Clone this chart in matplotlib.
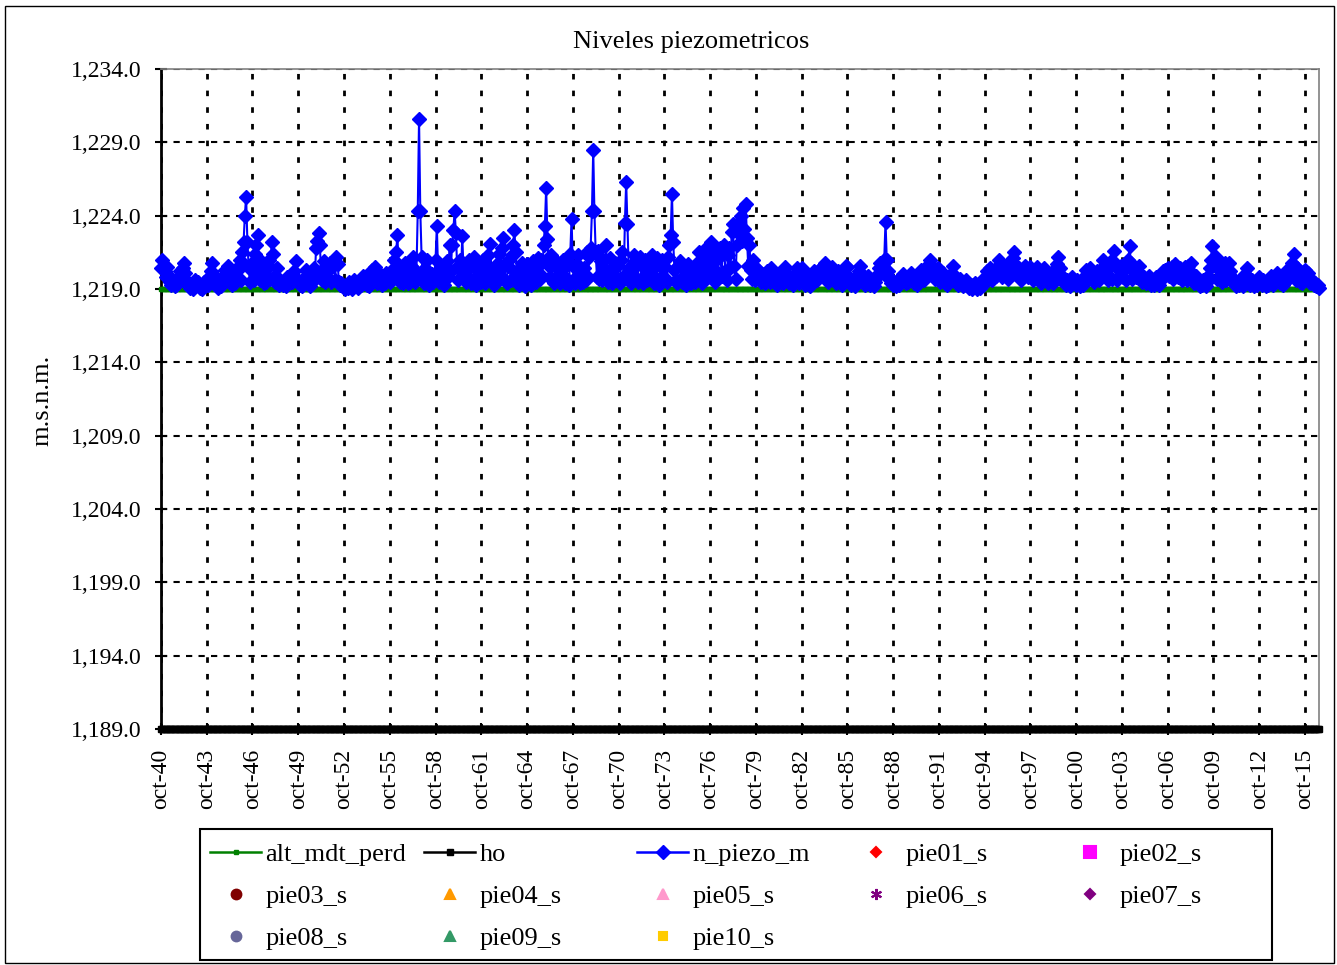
import matplotlib.pyplot as plt
from matplotlib.patches import Rectangle
from matplotlib.ticker import FuncFormatter
import numpy as np
import pandas as pd

plt.rcParams['font.family'] = ['Liberation Serif', 'DejaVu Serif']

# niveles mensuales, una fila por año hidrologico (oct..sep), desde oct-1940
n_piezo_m = [
    [1220.4, 1221.0, 1220.6, 1220.2, 1219.8, 1220.5, 1219.9, 1219.5, 1219.3, 1219.6, 1219.4, 1219.2],
    [1219.3, 1219.5, 1219.8, 1220.2, 1219.9, 1220.4, 1220.8, 1220.1, 1219.6, 1219.3, 1219.2, 1219.1],
    [1219.2, 1219.0, 1219.4, 1219.6, 1219.3, 1219.5, 1219.2, 1219.1, 1219.0, 1219.3, 1219.5, 1219.2],
    [1219.4, 1219.3, 1219.8, 1220.2, 1220.8, 1220.0, 1219.6, 1219.4, 1219.2, 1219.1, 1219.3, 1219.2],
    [1219.5, 1219.8, 1220.3, 1219.7, 1220.1, 1220.6, 1219.9, 1219.5, 1219.3, 1219.6, 1219.4, 1219.8],
    [1220.2, 1220.6, 1221.0, 1219.6, 1221.5, 1222.2, 1224.0, 1225.3, 1222.2, 1220.5, 1219.5, 1220.3],
    [1220.8, 1219.6, 1221.4, 1222.0, 1222.7, 1220.2, 1219.6, 1220.9, 1219.7, 1219.4, 1220.3, 1219.5],
    [1220.5, 1221.0, 1219.7, 1222.2, 1221.4, 1219.8, 1219.5, 1220.4, 1219.5, 1219.3, 1219.6, 1219.4],
    [1219.3, 1219.5, 1219.2, 1219.8, 1219.6, 1219.4, 1219.9, 1219.5, 1219.7, 1220.2, 1220.9, 1219.6],
    [1219.6, 1219.3, 1219.5, 1219.2, 1219.4, 1219.8, 1220.3, 1219.7, 1219.4, 1219.2, 1219.5, 1220.1],
    [1220.4, 1219.7, 1221.8, 1222.3, 1222.8, 1222.0, 1220.2, 1219.6, 1220.9, 1219.5, 1219.8, 1220.5],
    [1219.7, 1220.8, 1219.5, 1220.6, 1221.0, 1219.6, 1221.2, 1220.7, 1219.5, 1219.3, 1219.4, 1219.3],
    [1219.2, 1219.0, 1219.3, 1219.1, 1219.5, 1219.2, 1219.0, 1219.3, 1219.6, 1219.2, 1219.4, 1219.1],
    [1219.5, 1219.3, 1219.6, 1219.9, 1219.4, 1219.7, 1219.3, 1219.5, 1219.2, 1219.8, 1220.3, 1219.6],
    [1220.5, 1219.8, 1219.4, 1219.6, 1220.0, 1219.5, 1219.3, 1219.8, 1219.4, 1220.1, 1219.6, 1219.9],
    [1219.5, 1220.2, 1219.6, 1221.0, 1219.8, 1221.5, 1222.7, 1220.3, 1219.5, 1220.0, 1219.4, 1220.2],
    [1220.8, 1219.6, 1219.4, 1220.3, 1219.5, 1220.6, 1221.2, 1219.8, 1219.5, 1220.2, 1224.3, 1230.6],
    [1224.3, 1221.2, 1219.8, 1219.4, 1220.4, 1221.0, 1219.7, 1219.3, 1219.4, 1220.0, 1219.5, 1219.8],
    [1221.0, 1223.3, 1220.2, 1219.5, 1219.7, 1220.5, 1219.6, 1219.3, 1220.3, 1220.9, 1219.8, 1222.0],
    [1220.2, 1222.0, 1223.0, 1224.3, 1222.8, 1220.5, 1219.6, 1221.0, 1219.8, 1222.6, 1220.4, 1219.6],
    [1219.5, 1220.5, 1221.0, 1219.7, 1219.4, 1220.7, 1221.2, 1219.6, 1219.3, 1220.3, 1219.6, 1220.0],
    [1219.5, 1221.0, 1220.3, 1219.4, 1220.6, 1221.3, 1219.8, 1222.1, 1220.2, 1219.5, 1219.3, 1220.5],
    [1219.7, 1220.8, 1221.4, 1219.9, 1221.8, 1222.5, 1220.6, 1219.6, 1219.4, 1220.6, 1221.0, 1219.6],
    [1221.3, 1222.0, 1223.0, 1221.5, 1220.2, 1219.6, 1219.3, 1220.3, 1220.8, 1219.5, 1219.2, 1219.8],
    [1220.7, 1219.6, 1219.4, 1219.3, 1220.4, 1220.9, 1219.7, 1219.5, 1220.5, 1221.1, 1219.7, 1221.0],
    [1219.9, 1222.0, 1223.3, 1225.9, 1222.4, 1220.6, 1219.8, 1221.3, 1219.6, 1219.4, 1220.6, 1219.7],
    [1220.8, 1219.6, 1219.4, 1220.5, 1221.0, 1219.7, 1219.4, 1220.6, 1219.6, 1219.3, 1221.4, 1223.8],
    [1220.6, 1219.7, 1219.4, 1220.7, 1221.3, 1219.8, 1219.4, 1220.3, 1219.5, 1220.4, 1219.6, 1221.5],
    [1219.8, 1221.2, 1221.8, 1224.3, 1228.5, 1224.3, 1221.5, 1219.8, 1221.6, 1219.7, 1220.9, 1219.6],
    [1221.0, 1219.8, 1222.0, 1220.2, 1219.5, 1221.1, 1219.7, 1219.4, 1220.3, 1220.8, 1219.6, 1220.6],
    [1219.6, 1219.4, 1221.0, 1221.5, 1219.9, 1223.5, 1226.3, 1223.4, 1220.4, 1219.6, 1219.4, 1220.7],
    [1221.3, 1219.8, 1221.0, 1219.5, 1220.8, 1221.2, 1219.7, 1219.4, 1220.4, 1221.0, 1219.6, 1220.8],
    [1219.7, 1220.5, 1221.3, 1219.8, 1219.4, 1220.6, 1221.1, 1219.6, 1219.3, 1220.5, 1221.0, 1219.7],
    [1220.6, 1219.7, 1219.5, 1221.2, 1222.0, 1222.7, 1225.5, 1222.2, 1220.3, 1219.6, 1219.4, 1220.6],
    [1220.9, 1219.7, 1219.5, 1220.6, 1219.6, 1219.3, 1220.2, 1220.7, 1219.6, 1219.4, 1220.3, 1219.6],
    [1219.5, 1220.3, 1220.8, 1221.5, 1219.9, 1219.6, 1219.4, 1220.5, 1221.0, 1221.8, 1219.9, 1220.6],
    [1221.6, 1222.2, 1220.4, 1219.6, 1219.5, 1221.0, 1219.8, 1221.2, 1221.8, 1219.9, 1221.5, 1222.0],
    [1220.2, 1219.6, 1221.3, 1221.8, 1220.4, 1222.9, 1223.4, 1220.6, 1219.7, 1222.0, 1222.8, 1223.6],
    [1224.0, 1222.3, 1224.5, 1223.1, 1224.8, 1222.5, 1220.6, 1222.0, 1220.3, 1219.7, 1221.0, 1219.6],
    [1220.4, 1219.9, 1220.3, 1219.7, 1219.5, 1220.0, 1219.6, 1219.4, 1219.8, 1220.2, 1219.6, 1219.5],
    [1220.4, 1219.8, 1219.5, 1219.9, 1219.6, 1219.3, 1219.7, 1220.1, 1219.6, 1219.4, 1220.0, 1220.5],
    [1220.1, 1219.6, 1219.4, 1219.8, 1219.5, 1219.3, 1219.6, 1220.0, 1220.4, 1219.7, 1219.4, 1219.6],
    [1220.4, 1219.8, 1219.5, 1219.3, 1219.6, 1219.9, 1219.5, 1219.2, 1219.4, 1219.7, 1220.2, 1219.8],
    [1219.6, 1219.9, 1220.3, 1220.0, 1220.4, 1220.6, 1220.8, 1220.2, 1219.7, 1219.5, 1219.8, 1220.1],
    [1220.5, 1219.9, 1219.6, 1219.4, 1219.7, 1220.2, 1219.8, 1219.5, 1219.3, 1219.6, 1220.0, 1220.6],
    [1220.5, 1219.8, 1219.5, 1219.3, 1219.6, 1219.4, 1219.2, 1219.5, 1219.8, 1220.2, 1220.6, 1219.9],
    [1219.6, 1219.4, 1219.3, 1219.6, 1219.9, 1219.5, 1219.3, 1219.6, 1219.4, 1219.2, 1219.5, 1219.8],
    [1220.0, 1220.4, 1220.8, 1220.2, 1220.6, 1221.0, 1223.6, 1221.0, 1220.2, 1219.7, 1219.4, 1219.6],
    [1219.3, 1219.5, 1219.2, 1219.4, 1219.6, 1219.3, 1219.5, 1219.8, 1220.0, 1219.6, 1219.4, 1219.7],
    [1219.5, 1219.8, 1220.1, 1219.6, 1219.4, 1219.7, 1219.5, 1219.3, 1219.6, 1219.9, 1220.3, 1219.8],
    [1219.6, 1219.9, 1220.3, 1220.6, 1220.2, 1221.0, 1220.4, 1220.6, 1219.9, 1219.7, 1220.1, 1220.4],
    [1219.8, 1219.5, 1219.7, 1220.1, 1219.6, 1219.4, 1219.3, 1219.5, 1219.8, 1219.6, 1220.1, 1220.6],
    [1219.9, 1219.6, 1219.4, 1219.3, 1219.5, 1219.7, 1219.4, 1219.2, 1219.4, 1219.6, 1219.3, 1219.2],
    [1219.1, 1219.3, 1219.0, 1219.2, 1219.4, 1219.2, 1219.0, 1219.3, 1219.1, 1219.4, 1219.6, 1219.3],
    [1219.5, 1219.8, 1220.2, 1219.7, 1220.4, 1220.0, 1219.6, 1219.8, 1220.3, 1219.9, 1220.5, 1221.0],
    [1220.6, 1220.2, 1219.8, 1220.3, 1220.6, 1220.1, 1219.7, 1220.0, 1220.4, 1220.9, 1221.1, 1221.5],
    [1220.6, 1220.2, 1219.9, 1220.4, 1220.0, 1219.6, 1219.9, 1220.3, 1220.6, 1220.1, 1219.8, 1220.2],
    [1220.5, 1219.9, 1219.6, 1219.8, 1220.2, 1220.5, 1219.9, 1219.6, 1219.4, 1219.7, 1220.0, 1220.4],
    [1219.8, 1219.6, 1219.4, 1219.7, 1220.1, 1219.6, 1219.4, 1219.8, 1220.2, 1220.7, 1221.2, 1220.4],
    [1219.9, 1219.6, 1219.8, 1219.5, 1219.3, 1219.6, 1219.4, 1219.2, 1219.5, 1219.8, 1219.6, 1219.4],
    [1219.3, 1219.6, 1219.4, 1219.2, 1219.5, 1219.3, 1219.6, 1219.9, 1220.3, 1219.8, 1220.1, 1220.4],
    [1220.0, 1219.7, 1219.5, 1219.8, 1220.2, 1219.9, 1219.6, 1219.8, 1220.4, 1221.0, 1220.5, 1220.2],
    [1220.4, 1219.6, 1220.6, 1220.9, 1219.7, 1220.8, 1221.6, 1220.7, 1219.6, 1219.8, 1220.3, 1220.6],
    [1220.2, 1219.8, 1220.4, 1219.6, 1220.6, 1221.0, 1221.9, 1220.8, 1219.7, 1220.6, 1220.1, 1219.8],
    [1220.2, 1220.6, 1220.0, 1219.7, 1219.5, 1219.8, 1219.6, 1219.4, 1219.6, 1219.9, 1219.5, 1219.3],
    [1219.5, 1219.3, 1219.6, 1219.8, 1219.5, 1219.3, 1219.6, 1219.9, 1220.2, 1219.8, 1220.3, 1220.0],
    [1220.4, 1219.9, 1220.2, 1220.5, 1219.7, 1220.6, 1220.7, 1220.2, 1219.8, 1220.1, 1220.4, 1219.6],
    [1219.7, 1220.2, 1220.5, 1219.6, 1220.6, 1220.3, 1220.8, 1219.8, 1219.6, 1219.4, 1219.9, 1219.5],
    [1219.4, 1219.2, 1219.5, 1219.3, 1219.6, 1219.4, 1219.2, 1219.5, 1219.9, 1220.4, 1221.0, 1221.9],
    [1221.0, 1220.6, 1221.2, 1219.7, 1220.8, 1219.6, 1220.6, 1219.5, 1220.3, 1220.8, 1219.6, 1220.1],
    [1220.8, 1220.2, 1219.8, 1219.5, 1219.7, 1219.4, 1219.2, 1219.5, 1219.3, 1219.6, 1219.4, 1219.2],
    [1219.6, 1220.0, 1220.4, 1219.8, 1219.5, 1219.3, 1219.6, 1219.4, 1219.2, 1219.5, 1219.3, 1219.6],
    [1219.8, 1219.5, 1219.3, 1219.6, 1219.4, 1219.2, 1219.5, 1219.3, 1219.6, 1219.9, 1219.5, 1219.3],
    [1219.5, 1219.8, 1220.1, 1219.6, 1219.4, 1219.7, 1219.5, 1219.3, 1219.6, 1219.8, 1220.3, 1219.7],
    [1219.8, 1220.3, 1220.8, 1221.4, 1220.6, 1219.6, 1220.4, 1219.8, 1219.5, 1219.7, 1219.4, 1219.6],
    [1220.3, 1219.8, 1220.1, 1219.6, 1219.4, 1219.7, 1219.5, 1219.3, 1219.4, 1219.2, 1219.3, 1219.1],
]
alt_mdt_level = 1219.0
ho_level = 1189.0

n_piezo = np.concatenate(n_piezo_m)
fechas = pd.date_range('1940-10-01', periods=len(n_piezo), freq='MS')
alt_mdt_perd = np.full(len(n_piezo), alt_mdt_level)
ho = np.full(len(n_piezo), ho_level)

fig = plt.figure(figsize=(13.37, 9.65), dpi=100)
ax = fig.add_axes([161 / 1337, 1 - 729 / 965, (1319 - 161) / 1337, 660 / 965])

ax.plot(fechas, alt_mdt_perd, color='#008000', lw=2, marker='s', ms=3, clip_on=False, zorder=3, label='alt_mdt_perd')
ax.plot(fechas, ho, color='black', lw=3, marker='s', ms=4, clip_on=False, zorder=3, label='ho')
ax.plot(fechas, n_piezo, color='#0000FF', lw=1.5, marker='D', ms=7.5, clip_on=False, zorder=4, label='n_piezo_m')

# series puntuales sin datos (solo leyenda)
pie_styles = [
    ('pie01_s', 'D', '#FF0000', 5),
    ('pie02_s', 's', '#FF00FF', 8),
    ('pie03_s', 'o', '#800000', 7),
    ('pie04_s', '^', '#FF9900', 7),
    ('pie05_s', '^', '#FF99CC', 7),
    ('pie06_s', (6, 2, 0), '#800080', 8),
    ('pie07_s', 'D', '#800080', 5),
    ('pie08_s', 'o', '#666699', 7),
    ('pie09_s', '^', '#339966', 7),
    ('pie10_s', 's', '#FFCC00', 6),
]
for name, mk, col, size in pie_styles:
    ax.plot([], [], ls='none', marker=mk, color=col, ms=size, mew=1.5, label=name)

ax.set_ylim(1189, 1234)
ax.set_yticks(np.arange(1189, 1235, 5))
ax.yaxis.set_major_formatter(FuncFormatter(lambda v, p: f'{v:,.1f}'))
ax.set_xlim(fechas[0], fechas[-1])
ticks = pd.date_range('1940-10-01', '2015-10-01', freq='36MS')
ax.set_xticks(ticks)
ax.set_xticklabels(['oct-' + t.strftime('%y') for t in ticks], rotation=90)

ax.tick_params(axis='y', direction='inout', length=8, width=1.5, labelsize=17, pad=10)
ax.tick_params(axis='x', direction='inout', length=8, width=1.5, labelsize=17, pad=10)
ax.grid(axis='y', color='black', linestyle=(0, (3, 3)), lw=1.5)
ax.grid(axis='x', color='black', linestyle=(0, (2, 4)), lw=2)
ax.set_axisbelow(True)
for s in ['left', 'bottom']:
    ax.spines[s].set_linewidth(2)
for s in ['top', 'right']:
    ax.spines[s].set_color('#808080')
    ax.spines[s].set_linewidth(1.2)

fig.text(691 / 1337, 1 - 42 / 965, 'Niveles piezometricos', ha='center', va='center', fontsize=19)
fig.text(42 / 1337, 1 - 400 / 965, 'm.s.n.m.', ha='center', va='center', rotation=90, fontsize=19)

# leyenda: 5 columnas de igual ancho
handles, labels = ax.get_legend_handles_labels()
col_x = [210, 424, 637, 850, 1064]
for c in range(5):
    idx = list(range(c, len(handles), 5))
    leg = fig.legend([handles[i] for i in idx], [labels[i] for i in idx],
                     loc='upper left', bbox_to_anchor=(col_x[c] / 1337, 1 - 843 / 965),
                     frameon=False, fontsize=19, borderpad=0, borderaxespad=0,
                     handlelength=1.95, handletextpad=0.15, labelspacing=0.69)
    for h in leg.legend_handles:
        if h.get_linestyle() not in ('None', 'none', ''):
            h.set_linewidth(1.8)

fig.patches.append(Rectangle((200 / 1337, 1 - 960 / 965), 1072 / 1337, 131 / 965,
                             transform=fig.transFigure, fill=False, ec='black', lw=1.5))
fig.patches.append(Rectangle((5 / 1337, 2 / 965), 1329 / 1337, 957 / 965,
                             transform=fig.transFigure, fill=False, ec='black', lw=1))

fig.savefig('out.png', dpi=100)
